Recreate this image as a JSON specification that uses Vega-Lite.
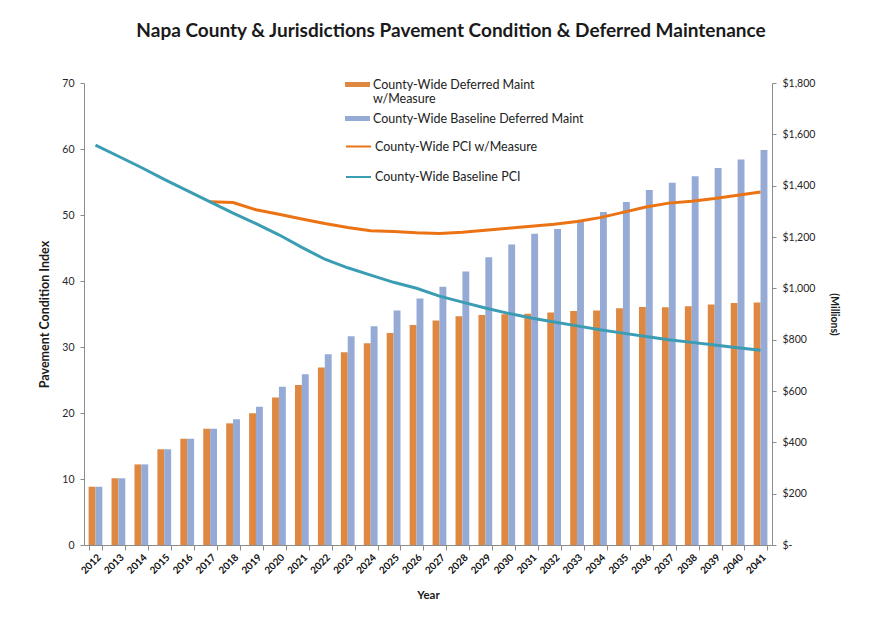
{
  "$schema": "https://vega.github.io/schema/vega-lite/v6.json",
  "width": 688,
  "height": 462,
  "autosize": {"type": "none"},
  "padding": {"left": 84, "top": 83, "right": 106, "bottom": 95},
  "background": "white",
  "config": {
    "font": "Lato",
    "view": {"stroke": null},
    "axis": {"grid": false, "domainColor": "#8c8c8c", "tickColor": "#8c8c8c", "labelColor": "#262626", "titleColor": "#1a1a1a"}
  },
  "title": {
    "text": "Napa County & Jurisdictions  Pavement Condition & Deferred Maintenance",
    "fontSize": 19,
    "fontWeight": "bold",
    "color": "#1a1a1a",
    "anchor": "middle",
    "dx": 23,
    "offset": 31
  },
  "data": {
    "values": [
      {"Year": "2012", "DM_Measure": 227, "DM_Baseline": 227, "PCI_Measure": null, "PCI_Baseline": 60.6},
      {"Year": "2013", "DM_Measure": 260, "DM_Baseline": 260, "PCI_Measure": null, "PCI_Baseline": 58.9},
      {"Year": "2014", "DM_Measure": 314, "DM_Baseline": 314, "PCI_Measure": null, "PCI_Baseline": 57.2},
      {"Year": "2015", "DM_Measure": 373, "DM_Baseline": 373, "PCI_Measure": null, "PCI_Baseline": 55.4},
      {"Year": "2016", "DM_Measure": 414, "DM_Baseline": 414, "PCI_Measure": null, "PCI_Baseline": 53.7},
      {"Year": "2017", "DM_Measure": 453, "DM_Baseline": 453, "PCI_Measure": 52.0, "PCI_Baseline": 52.0},
      {"Year": "2018", "DM_Measure": 474, "DM_Baseline": 490, "PCI_Measure": 51.9, "PCI_Baseline": 50.3},
      {"Year": "2019", "DM_Measure": 513, "DM_Baseline": 539, "PCI_Measure": 50.8, "PCI_Baseline": 48.7},
      {"Year": "2020", "DM_Measure": 575, "DM_Baseline": 617, "PCI_Measure": 50.1, "PCI_Baseline": 47.0},
      {"Year": "2021", "DM_Measure": 623, "DM_Baseline": 665, "PCI_Measure": 49.4, "PCI_Baseline": 45.1},
      {"Year": "2022", "DM_Measure": 692, "DM_Baseline": 743, "PCI_Measure": 48.7, "PCI_Baseline": 43.3},
      {"Year": "2023", "DM_Measure": 751, "DM_Baseline": 813, "PCI_Measure": 48.1, "PCI_Baseline": 42.0},
      {"Year": "2024", "DM_Measure": 786, "DM_Baseline": 852, "PCI_Measure": 47.6, "PCI_Baseline": 40.9},
      {"Year": "2025", "DM_Measure": 826, "DM_Baseline": 914, "PCI_Measure": 47.5, "PCI_Baseline": 39.8},
      {"Year": "2026", "DM_Measure": 857, "DM_Baseline": 960, "PCI_Measure": 47.3, "PCI_Baseline": 38.9},
      {"Year": "2027", "DM_Measure": 875, "DM_Baseline": 1006, "PCI_Measure": 47.2, "PCI_Baseline": 37.7},
      {"Year": "2028", "DM_Measure": 891, "DM_Baseline": 1066, "PCI_Measure": 47.4, "PCI_Baseline": 36.8},
      {"Year": "2029", "DM_Measure": 896, "DM_Baseline": 1121, "PCI_Measure": 47.7, "PCI_Baseline": 35.9},
      {"Year": "2030", "DM_Measure": 899, "DM_Baseline": 1171, "PCI_Measure": 48.0, "PCI_Baseline": 35.1},
      {"Year": "2031", "DM_Measure": 901, "DM_Baseline": 1213, "PCI_Measure": 48.3, "PCI_Baseline": 34.4},
      {"Year": "2032", "DM_Measure": 906, "DM_Baseline": 1231, "PCI_Measure": 48.6, "PCI_Baseline": 33.8},
      {"Year": "2033", "DM_Measure": 912, "DM_Baseline": 1260, "PCI_Measure": 49.0, "PCI_Baseline": 33.2},
      {"Year": "2034", "DM_Measure": 914, "DM_Baseline": 1297, "PCI_Measure": 49.6, "PCI_Baseline": 32.6},
      {"Year": "2035", "DM_Measure": 922, "DM_Baseline": 1336, "PCI_Measure": 50.4, "PCI_Baseline": 32.1},
      {"Year": "2036", "DM_Measure": 927, "DM_Baseline": 1383, "PCI_Measure": 51.2, "PCI_Baseline": 31.6},
      {"Year": "2037", "DM_Measure": 926, "DM_Baseline": 1411, "PCI_Measure": 51.8, "PCI_Baseline": 31.1},
      {"Year": "2038", "DM_Measure": 930, "DM_Baseline": 1437, "PCI_Measure": 52.1, "PCI_Baseline": 30.7},
      {"Year": "2039", "DM_Measure": 937, "DM_Baseline": 1469, "PCI_Measure": 52.5, "PCI_Baseline": 30.3},
      {"Year": "2040", "DM_Measure": 943, "DM_Baseline": 1502, "PCI_Measure": 53.0, "PCI_Baseline": 29.9},
      {"Year": "2041", "DM_Measure": 945, "DM_Baseline": 1539, "PCI_Measure": 53.5, "PCI_Baseline": 29.5}
    ]
  },
  "encoding": {
    "x": {
      "field": "Year",
      "type": "ordinal",
      "scale": {"paddingInner": 0.4, "paddingOuter": 0.2},
      "axis": {
        "title": "Year",
        "titleFontSize": 11.5,
        "titleFontWeight": "bold",
        "titlePadding": 14,
        "labelAngle": -45,
        "labelFontSize": 10,
        "labelFontWeight": "bold",
        "labelColor": "#111",
        "tickBand": "extent",
        "tickSize": 5
      }
    }
  },
  "layer": [
    {
      "transform": [{"fold": ["DM_Measure", "DM_Baseline"], "as": ["Series", "Value"]}],
      "mark": {"type": "bar"},
      "encoding": {
        "xOffset": {"field": "Series", "type": "nominal", "sort": ["DM_Measure", "DM_Baseline"]},
        "y": {
          "field": "Value",
          "type": "quantitative",
          "scale": {"domain": [0, 1800]},
          "axis": {
            "orient": "right",
            "title": "(Millions)",
            "titleFontSize": 10.5,
            "titleFontWeight": "bold",
            "titlePadding": 14,
            "values": [0, 200, 400, 600, 800, 1000, 1200, 1400, 1600, 1800],
            "labelExpr": "datum.value == 0 ? '$-' : '$' + format(datum.value, ',')",
            "labelFontSize": 10.5,
            "labelPadding": 6,
            "tickSize": 4
          }
        },
        "fill": {
          "field": "Series",
          "type": "nominal",
          "scale": {"domain": ["DM_Measure", "DM_Baseline"], "range": ["#DE8842", "#95AAD4"]},
          "legend": {
            "title": null,
            "orient": "none",
            "legendX": 261,
            "legendY": -11,
            "direction": "vertical",
            "symbolType": "M-1,-0.2H1V0.2H-1Z",
            "symbolSize": 625,
            "symbolStrokeWidth": 0,
            "labelFontSize": 12.5,
            "labelLimit": 400,
            "labelColor": "#222",
            "labelOffset": 3,
            "rowPadding": 0,
            "labelExpr": "datum.value == 'DM_Measure' ? ['County-Wide Deferred Maint', 'w/Measure'] : 'County-Wide Baseline Deferred Maint'"
          }
        }
      }
    },
    {
      "transform": [{"fold": ["PCI_Measure", "PCI_Baseline"], "as": ["Line", "PCI"]}],
      "mark": {"type": "line", "strokeWidth": 3},
      "encoding": {
        "y": {
          "field": "PCI",
          "type": "quantitative",
          "scale": {"domain": [0, 70]},
          "axis": {
            "orient": "left",
            "title": "Pavement Condition Index",
            "titleFontSize": 12.5,
            "titleFontWeight": "bold",
            "titlePadding": 10,
            "values": [0, 10, 20, 30, 40, 50, 60, 70],
            "labelFontSize": 10.5,
            "labelPadding": 6,
            "tickSize": 4
          }
        },
        "stroke": {
          "field": "Line",
          "type": "nominal",
          "scale": {"domain": ["PCI_Measure", "PCI_Baseline"], "range": ["#EC7314", "#3B9DB3"]},
          "legend": {
            "title": null,
            "orient": "none",
            "legendX": 261,
            "legendY": 50,
            "direction": "vertical",
            "symbolType": "stroke",
            "symbolSize": 625,
            "symbolStrokeWidth": 2,
            "labelFontSize": 12.5,
            "labelLimit": 400,
            "labelColor": "#222",
            "labelOffset": 3,
            "rowPadding": 10.5,
            "labelExpr": "datum.value == 'PCI_Measure' ? 'County-Wide PCI w/Measure' : 'County-Wide Baseline PCI'"
          }
        }
      }
    }
  ],
  "resolve": {"scale": {"y": "independent", "fill": "independent", "stroke": "independent"}}
}
